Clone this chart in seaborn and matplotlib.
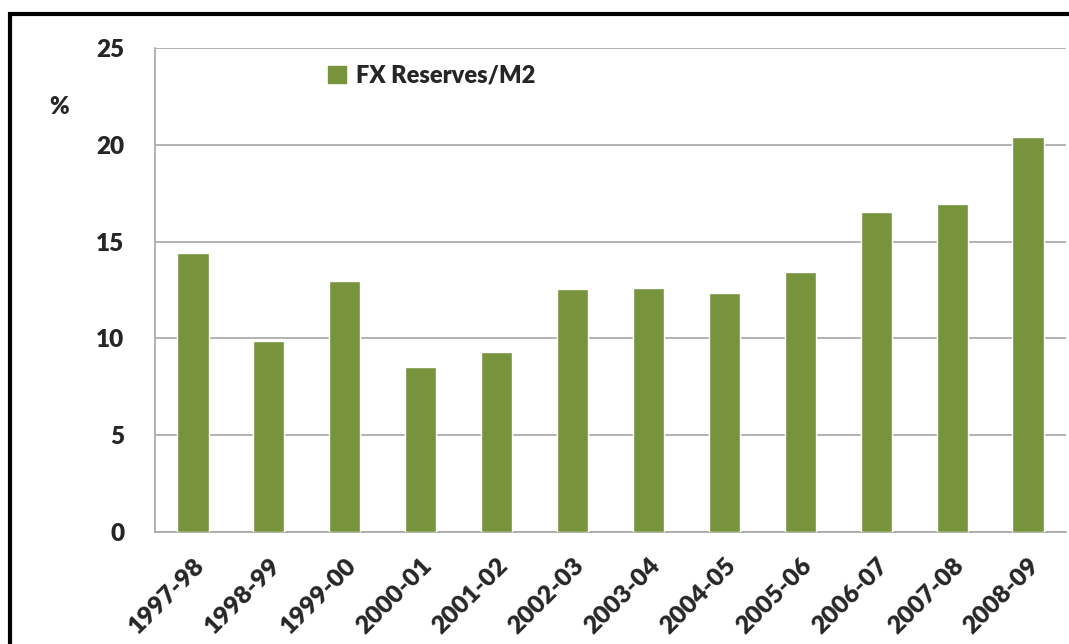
import numpy as np
import pandas as pd
import seaborn as sns
import matplotlib.pyplot as plt
from matplotlib.patches import Rectangle, Patch

years = ['1997-98', '1998-99', '1999-00', '2000-01', '2001-02', '2002-03',
         '2003-04', '2004-05', '2005-06', '2006-07', '2007-08', '2008-09']
fx_reserves_m2 = [14.4, 9.85, 12.95, 8.5, 9.3, 12.55,
                  12.6, 12.35, 13.45, 16.55, 16.95, 20.4]
y_ticks = [0, 5, 10, 15, 20, 25]

df = pd.DataFrame({'year': years, 'ratio': fx_reserves_m2})

sns.set_style('white')
plt.rcParams['font.family'] = ['Lato', 'DejaVu Sans']

green = '#77933C'
grid_col = '#A6A6A6'

fig = plt.figure(figsize=(10.69, 6.44), dpi=100)
ax = fig.add_axes([155 / 1069, 1 - 532 / 644, (1066 - 155) / 1069, (532 - 48) / 644])

sns.barplot(data=df, x='year', y='ratio', color=green, width=0.41,
            saturation=1, ax=ax, zorder=3)

ax.set_ylim(0, 25)
ax.set_xlim(-0.5, len(years) - 0.5)
ax.set_yticks(y_ticks)
ax.set_yticklabels([str(t) for t in y_ticks], fontsize=17.5, fontweight='heavy')
ax.yaxis.grid(True, color=grid_col, linewidth=1.2, zorder=0)
ax.set_axisbelow(True)

# category boundary ticks on x axis, labels at centres
ax.set_xticks(np.arange(len(years)))
ax.set_xticklabels(years, rotation=45, ha='right', rotation_mode='anchor',
                   fontsize=18, fontweight='heavy')
ax.tick_params(axis='x', which='major', length=0, pad=16)
ax.set_xticks(np.arange(-0.5, len(years)), minor=True)
ax.tick_params(axis='x', which='minor', length=8, color=grid_col, width=1.2)
ax.tick_params(axis='y', length=9, color=grid_col, width=1.2, pad=13)

for s in ['top', 'right']:
    ax.spines[s].set_visible(False)
for s in ['left', 'bottom']:
    ax.spines[s].set_color(grid_col)
    ax.spines[s].set_linewidth(1.2)

ax.set_xlabel('')
ax.set_ylabel('')
fig.text(59 / 1069, 1 - 107 / 644, '%', fontsize=17, fontweight='heavy',
         ha='center', va='center')

ax.legend(handles=[Patch(color=green, label='FX Reserves/M2')],
          loc='upper left', bbox_to_anchor=(0.167, 1.01), frameon=False,
          prop={'size': 17, 'weight': 'heavy'}, handlelength=0.75,
          handleheight=0.75, handletextpad=0.4)

# outer frame (left and top edges visible)
fig.patches.append(Rectangle((10 / 1069, -0.1), 1.2, 1 - 14 / 644 + 0.1,
                             transform=fig.transFigure, fill=False,
                             edgecolor='black', linewidth=3, zorder=10))

fig.savefig('out.png', dpi=100)
